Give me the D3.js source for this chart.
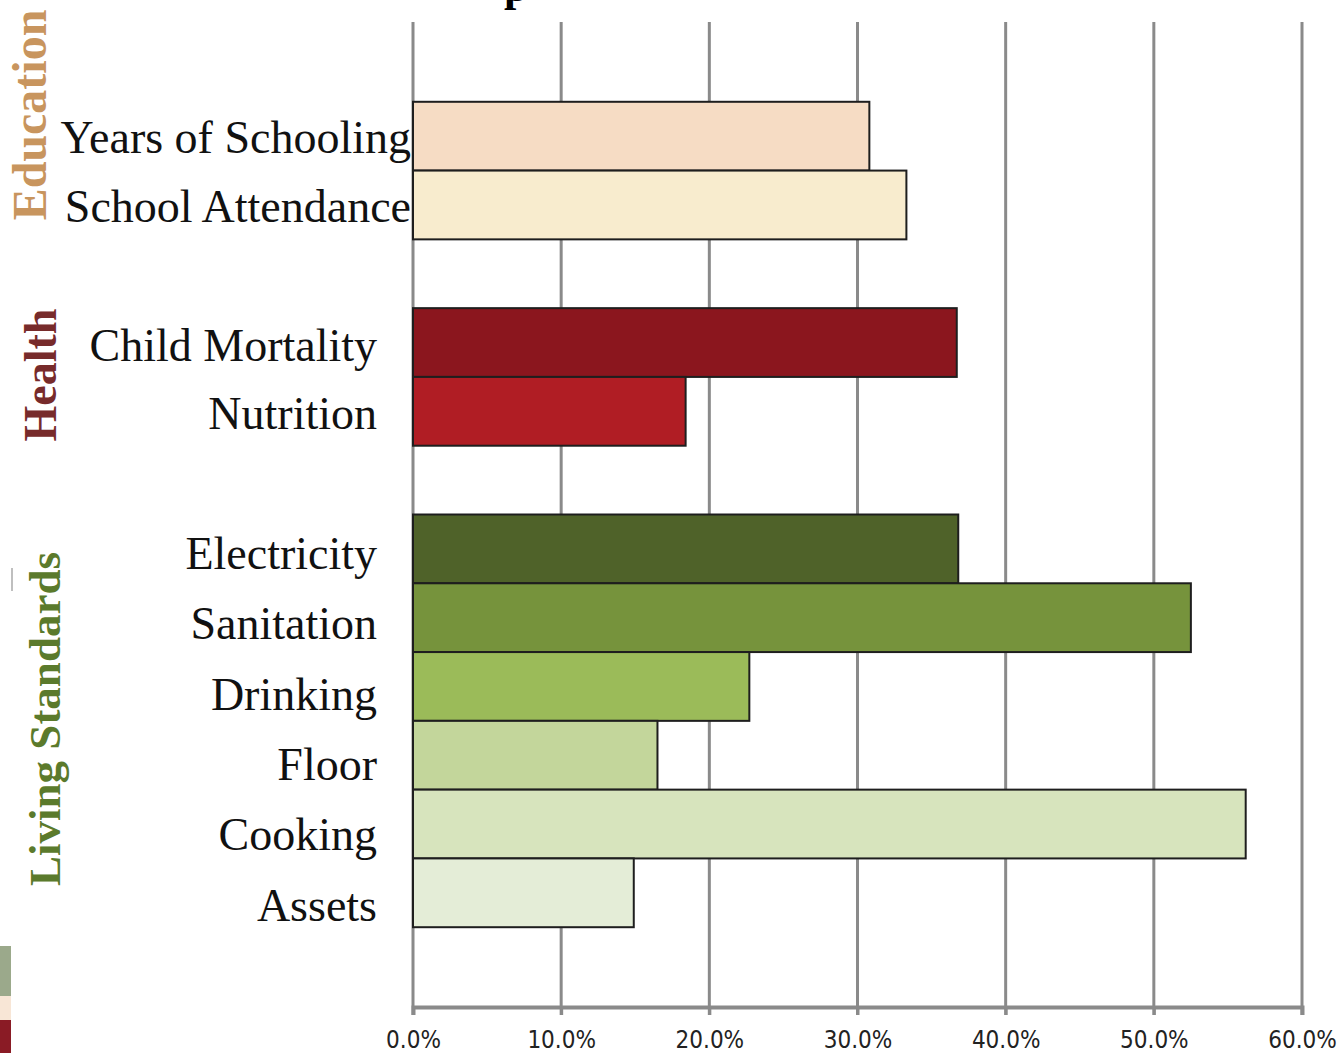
<!DOCTYPE html>
<html>
<head>
<meta charset="utf-8">
<script src="https://cdn.jsdelivr.net/npm/d3@7"></script>
<style>
  body { margin: 0; background: #fff; }
  svg { display: block; }
</style>
</head>
<body>
<svg id="chart" width="1339" height="1053"></svg>
<script>
// data
var categories = ["Years of Schooling", "School Attendance", "Child Mortality", "Nutrition",
                  "Electricity", "Sanitation", "Drinking", "Floor", "Cooking", "Assets"];
var values = [0.308, 0.333, 0.367, 0.184, 0.368, 0.525, 0.227, 0.165, 0.562, 0.149];
var groupOf = ["Education", "Education", "Health", "Health",
               "Living Standards", "Living Standards", "Living Standards", "Living Standards", "Living Standards", "Living Standards"];
var groups = ["Education", "Health", "Living Standards"];
var tickValues = [0, 0.1, 0.2, 0.3, 0.4, 0.5, 0.6];

var barColors = ["#f6dcc4", "#f8ecce", "#8b161e", "#b01d24",
                 "#4f6229", "#76933c", "#9bbb59", "#c3d69b", "#d7e4bd", "#e4edd7"];
var groupColors = {"Education": "#c8955e", "Health": "#772b2b", "Living Standards": "#5b7a2c"};

// slots: one empty slot between groups
var slots = [];
categories.forEach(function(c, i) {
  if (i > 0 && groupOf[i] != groupOf[i-1]) slots.push("_gap" + i);
  slots.push(c);
});

var svg = d3.select("#chart");

var x = d3.scaleLinear().domain([0, 0.6]).range([413, 1302]);
var y = d3.scaleBand().domain(slots).range([22, 1007]).paddingInner(0).paddingOuter(1.16);

// cut-off title descender at the very top
svg.append("text")
  .attr("x", 504).attr("y", 1)
  .style("font-family", "Liberation Serif, serif")
  .style("font-weight", "bold")
  .style("font-size", "44px")
  .text("p");

// decorative fragment in the lower left corner
var deco = svg.append("g");
deco.append("rect").attr("x", 0).attr("y", 946).attr("width", 11).attr("height", 50).attr("fill", "#9ba98b");
deco.append("rect").attr("x", 0).attr("y", 996).attr("width", 11).attr("height", 24).attr("fill", "#f8e6d6");
deco.append("rect").attr("x", 0).attr("y", 1020).attr("width", 11).attr("height", 33).attr("fill", "#8a1b25");
svg.append("line").attr("x1", 12).attr("x2", 12).attr("y1", 568).attr("y2", 591)
  .attr("stroke", "#aaa").attr("stroke-width", 1.5);

// vertical gridlines
svg.append("g").selectAll("line")
  .data(tickValues)
  .enter().append("line")
    .attr("x1", function(d) { return x(d); })
    .attr("x2", function(d) { return x(d); })
    .attr("y1", 22)
    .attr("y2", 1015)
    .attr("stroke", "#8a8a8a")
    .attr("stroke-width", 3);

// x axis
var xAxis = svg.append("g")
  .attr("transform", "translate(0,1007)")
  .call(d3.axisBottom(x).tickValues(tickValues).tickSize(8).tickFormat(d3.format(".1%")));
xAxis.select(".domain").attr("stroke", "#8a8a8a").attr("stroke-width", 4);
xAxis.selectAll(".tick line").attr("stroke", "#8a8a8a").attr("stroke-width", 3);
xAxis.selectAll(".tick text")
  .attr("y", 41)
  .attr("dy", 0)
  .attr("fill", "#222")
  .style("font-family", "DejaVu Sans Condensed, DejaVu Sans, sans-serif")
  .style("font-stretch", "condensed")
  .style("font-size", "24px");

// bars
svg.append("g").selectAll("rect")
  .data(categories)
  .enter().append("rect")
    .attr("x", x(0))
    .attr("y", function(d) { return y(d); })
    .attr("width", function(d, i) { return x(values[i]) - x(0); })
    .attr("height", y.bandwidth())
    .attr("fill", function(d, i) { return barColors[i]; })
    .attr("stroke", "#1e1e1e")
    .attr("stroke-width", 2);

// category labels (living standards labels drift a little lower in the original)
svg.append("g").selectAll("text")
  .data(categories)
  .enter().append("text")
    .attr("x", function(d, i) { return groupOf[i] == "Education" ? 411 : 377; })
    .attr("y", function(d, i) {
      var off = 17;
      if (groupOf[i] == "Health") off = 18;
      if (groupOf[i] == "Living Standards") off = 20 + 1.6 * (i - 4);
      return y(d) + y.bandwidth() / 2 + off;
    })
    .attr("text-anchor", "end")
    .style("font-family", "Liberation Serif, serif")
    .style("font-size", "46px")
    .attr("fill", "#111")
    .text(function(d) { return d; });

// rotated group labels
var groupPos = {"Education": [46, 115, 48], "Health": [56, 375, 46], "Living Standards": [60, 719, 45]};
svg.append("g").selectAll("text")
  .data(groups)
  .enter().append("text")
    .attr("transform", function(d) { return "translate(" + groupPos[d][0] + "," + groupPos[d][1] + ") rotate(-90)"; })
    .attr("text-anchor", "middle")
    .style("font-family", "Liberation Serif, serif")
    .style("font-weight", "bold")
    .style("font-size", function(d) { return groupPos[d][2] + "px"; })
    .attr("fill", function(d) { return groupColors[d]; })
    .text(function(d) { return d; });
</script>
</body>
</html>
